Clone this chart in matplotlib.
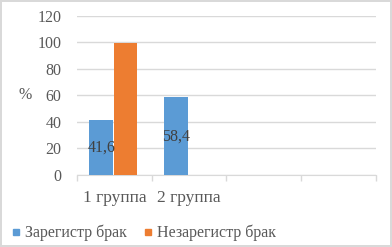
import matplotlib.pyplot as plt
from matplotlib.lines import Line2D

# данные
categories = ["1 группа", "2 группа", "", ""]
registered = [41.6, 58.4, None, None]
unregistered = [99.5, None, None, None]
series_names = ["Зарегистр брак", "Незарегистр брак"]
yticks = [0, 20, 40, 60, 80, 100, 120]

blue = "#5B9BD5"
orange = "#ED7D31"
gray = "#595959"

plt.rcParams['font.family'] = ['Liberation Serif', 'DejaVu Serif']

fig = plt.figure(figsize=(3.92, 2.47), dpi=100)
fig.patch.set_edgecolor("#d9d9d9")
fig.patch.set_linewidth(1.5)
ax = fig.add_axes([0.1964, 0.2915, 0.762, 0.6457])

w = 0.32
x = list(range(len(categories)))
for i in x:
    if registered[i] is not None:
        ax.bar(i - w / 2 - 0.015, registered[i], width=w, color=blue, zorder=3)
        ax.text(i - w / 2 - 0.015, registered[i] / 2, str(registered[i]).replace(".", ","),
                ha="center", va="center", fontsize=11.5, color="#404040", zorder=4)
    if unregistered[i] is not None:
        ax.bar(i + w / 2 - 0.01, unregistered[i], width=w, color=orange, zorder=3)

ax.set_xlim(-0.5, len(categories) - 0.5)
ax.set_ylim(0, 120)
ax.set_yticks(yticks)
ax.tick_params(axis="y", length=0, pad=11, labelsize=11.5, labelcolor=gray)
ax.grid(axis="y", color="#d9d9d9", linewidth=1, zorder=0)

ax.set_xticks(x)
ax.set_xticklabels(categories)
ax.tick_params(axis="x", which="major", length=0, pad=11, labelsize=12.5, labelcolor=gray)
ax.set_xticks([i - 0.5 for i in range(len(categories) + 1)], minor=True)
ax.tick_params(axis="x", which="minor", length=4, color="#d9d9d9", width=1)

for s in ["top", "right", "left"]:
    ax.spines[s].set_visible(False)
ax.spines["bottom"].set_color("#d9d9d9")

ax.set_ylabel("%", rotation=0, fontsize=11.5, color=gray, va="center")
ax.yaxis.set_label_coords(-0.175, 0.5)

handles = [Line2D([], [], marker="s", linestyle="", color=c, markersize=5) for c in (blue, orange)]
fig.legend(handles, series_names, loc="center", bbox_to_anchor=(142 / 392, 1 - 233 / 247),
           ncol=2, frameon=False, fontsize=11.5, labelcolor=gray, handletextpad=0.1,
           columnspacing=0.8, handlelength=1.0)

fig.savefig("out.png", dpi=100)
